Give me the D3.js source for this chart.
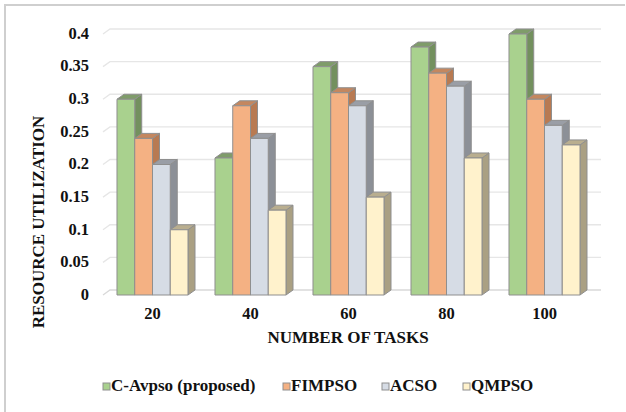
<!DOCTYPE html>
<html><head><meta charset="utf-8">
<script src="https://cdn.jsdelivr.net/npm/d3@7/dist/d3.min.js"></script>
<style>body{margin:0;background:#fff}svg{display:block}</style>
</head><body>
<svg id="c" width="626" height="412"></svg>
<script>
const categories = ["20","40","60","80","100"];
const seriesNames = ["C-Avpso (proposed)","FIMPSO","ACSO","QMPSO"];
const cAvpso = [0.30,0.21,0.35,0.38,0.40];
const fimpso = [0.24,0.29,0.31,0.34,0.30];
const acso   = [0.20,0.24,0.29,0.32,0.26];
const qmpso  = [0.10,0.13,0.15,0.21,0.23];
const yTicks = [0,0.05,0.1,0.15,0.2,0.25,0.3,0.35,0.4];
const seriesValues = [cAvpso,fimpso,acso,qmpso];

const front = ["#a9d18e","#f4b183","#d6dce5","#fff2cc"];
const side  = ["#73905e","#b87a52","#8c9097","#aaa083"];
const topc  = ["#7f9c6a","#c4875f","#9a9ea6","#b9ae8f"];

const svg = d3.select("#c");
const font = "'Liberation Serif','Times New Roman',serif";
const dx = 7, dy = -5;

// border
svg.append("path").attr("d","M5,412 V5 H625").attr("fill","none")
  .attr("stroke","#cfcfcf").attr("stroke-width",2);

const y = d3.scaleLinear().domain([0,0.4]).range([295,34]);
const x0 = d3.scaleBand().domain(categories).range([103.5,593.5])
  .paddingInner(0.2755).paddingOuter(0.13775);
const x1 = d3.scaleBand().domain(seriesNames).range([0,x0.bandwidth()]);

// gridlines (back wall)
const gx0 = 103, gx1 = 110, gx2 = 601;
svg.append("g").selectAll("path").data(yTicks).join("path")
  .attr("d", d => `M${gx0},${y(d)} L${gx1},${y(d)+dy} H${gx2}`)
  .attr("fill","none").attr("stroke", d => d===0 ? "#d9d9d9" : "#e6e6e6")
  .attr("stroke-width",1.3);

// y tick labels
svg.append("g").selectAll("text").data(yTicks).join("text")
  .attr("x",89).attr("y",d=>y(d)+1).attr("text-anchor","end")
  .attr("dominant-baseline","middle")
  .attr("font-family",font).attr("font-weight","bold").attr("font-size",16.5)
  .attr("fill","#111").text(d=>d);

// bars
const bars = svg.append("g");
categories.forEach((c,ci)=>{
  seriesNames.forEach((s,si)=>{
    const v = seriesValues[si][ci];
    const bx = x0(c)+x1(s), w = x1.bandwidth();
    const by = y(v), b0 = y(0);
    const g = bars.append("g").attr("stroke","#8f8f8f").attr("stroke-width",1).attr("stroke-linejoin","round");
    g.append("path").attr("d",`M${bx+w},${by} L${bx+w+dx},${by+dy} L${bx+w+dx},${b0+dy} L${bx+w},${b0} Z`).attr("fill",side[si]);
    g.append("path").attr("d",`M${bx},${by} L${bx+dx},${by+dy} L${bx+w+dx},${by+dy} L${bx+w},${by} Z`).attr("fill",topc[si]);
    g.append("rect").attr("x",bx).attr("y",by).attr("width",w).attr("height",b0-by).attr("fill",front[si]);
  });
});

// x labels
svg.append("g").selectAll("text").data(categories).join("text")
  .attr("x",d=>x0(d)+x0.bandwidth()/2).attr("y",319).attr("text-anchor","middle")
  .attr("font-family",font).attr("font-weight","bold").attr("font-size",16.5)
  .attr("fill","#111").text(d=>d);

// axis titles
svg.append("text").attr("x",348).attr("y",343).attr("text-anchor","middle")
  .attr("font-family",font).attr("font-weight","bold").attr("font-size",17)
  .attr("fill","#111").text("NUMBER OF TASKS");
svg.append("text").attr("transform","translate(44,222) rotate(-90)").attr("text-anchor","middle")
  .attr("font-family",font).attr("font-weight","bold").attr("font-size",17)
  .attr("fill","#111").text("RESOURCE UTILIZATION");

// legend
const legX = [103,283,382,463];
const leg = svg.append("g").selectAll("g").data(seriesNames).join("g")
  .attr("transform",(d,i)=>`translate(${legX[i]},387)`);
leg.append("rect").attr("x",0).attr("y",-4).attr("width",7).attr("height",7)
  .attr("fill",(d,i)=>front[i]).attr("stroke","#8f8f8f");
leg.append("text").attr("x",8).attr("y",0).attr("dominant-baseline","middle")
  .attr("font-family",font).attr("font-weight","bold").attr("font-size",17)
  .attr("fill","#111").text(d=>d);
</script>
</body></html>
